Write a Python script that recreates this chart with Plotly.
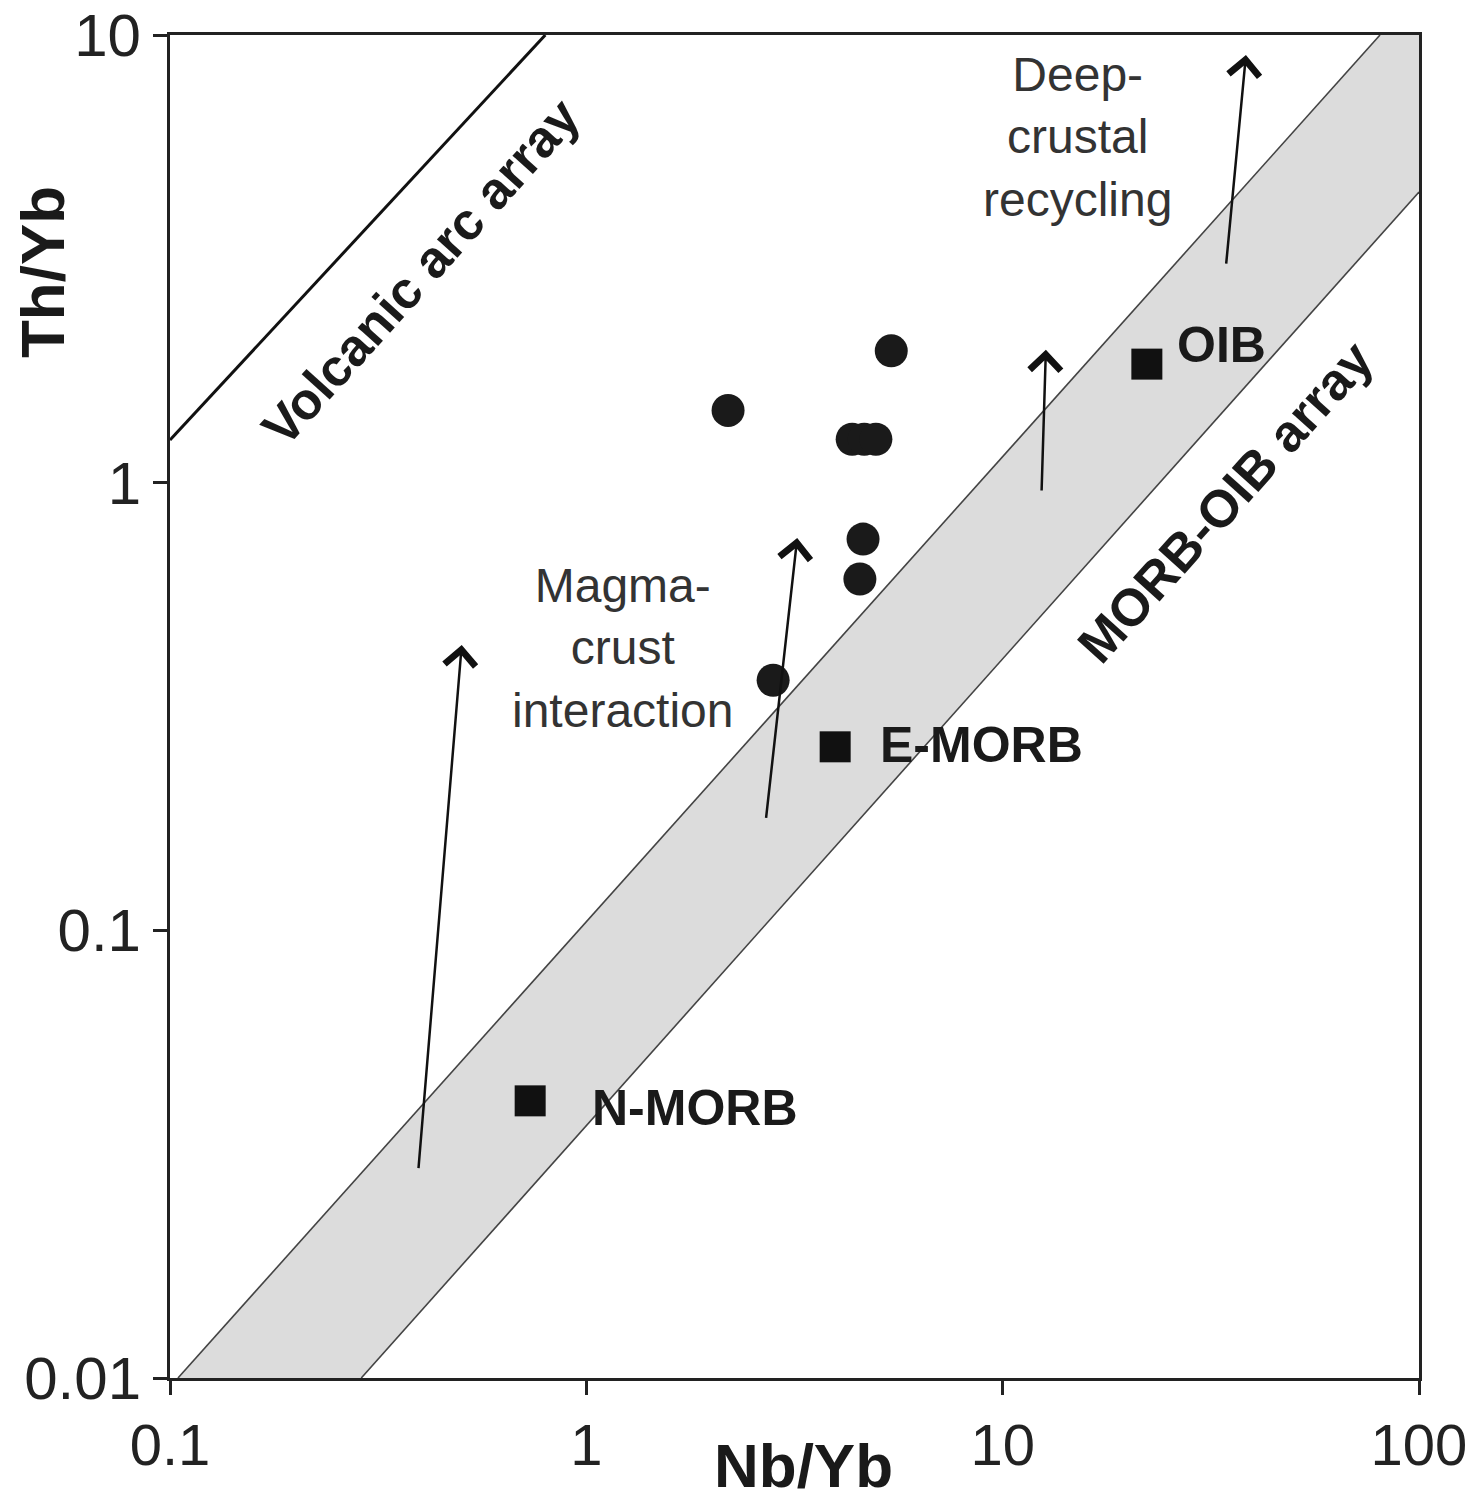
import numpy as np
import plotly.graph_objects as go

# ---- data ----
# sample points (filled circles)
sample_nbyb = [5.40, 2.19, 4.35, 4.65, 4.96, 4.62, 4.54, 2.81]
sample_thyb = [1.97, 1.45, 1.25, 1.25, 1.25, 0.748, 0.609, 0.362]

# reference compositions (squares)
ref_names = ["N-MORB", "E-MORB", "OIB"]
ref_nbyb = [0.733, 3.96, 22.2]
ref_thyb = [0.0416, 0.257, 1.84]
ref_label_x = [1.02, 5.02, 25.9]
ref_label_y = [0.0401, 0.2595, 2.03]

# volcanic arc array line
arc_x = [0.1, 0.797]
arc_y = [1.245, 10.0]

# MORB-OIB array boundaries
morb_upper_x = [0.1045, 80.6]
morb_upper_y = [0.01, 10.0]
morb_lower_x = [0.288, 100.0]
morb_lower_y = [0.01, 4.46]

# trend arrows (start -> end)
arrow_x0 = [0.395, 2.70, 12.4, 34.4]
arrow_y0 = [0.0292, 0.177, 0.953, 3.06]
arrow_x1 = [0.502, 3.21, 12.7, 38.4]
arrow_y1 = [0.434, 0.752, 1.98, 9.02]

# text labels
field_labels = ["Volcanic arc array", "MORB-OIB array"]
field_x = [0.400, 34.2]
field_y = [2.95, 0.906]
process_labels = ["Magma-<br>crust<br>interaction", "Deep-<br>crustal<br>recycling"]
process_x = [1.22, 15.1]
process_y = [0.428, 5.92]

x_ticks = [0.1, 1, 10, 100]
x_ticktext = ["0.1", "1", "10", "100"]
y_ticks = [0.01, 0.1, 1, 10]
y_ticktext = ["0.01", "0.1", "1", "10"]

FONT = "Liberation Sans, Arial, sans-serif"
lg = np.log10

fig = go.Figure()

# MORB-OIB band fill
band_x = [morb_upper_x[0], morb_upper_x[1], 100.0, morb_lower_x[1], morb_lower_x[0], morb_upper_x[0]]
band_y = [morb_upper_y[0], morb_upper_y[1], 10.0, morb_lower_y[1], morb_lower_y[0], morb_upper_y[0]]
fig.add_trace(go.Scatter(x=band_x, y=band_y, mode="lines", fill="toself",
                         fillcolor="#dcdcdc", line=dict(width=0), hoverinfo="skip",
                         showlegend=False))
fig.add_trace(go.Scatter(x=morb_upper_x, y=morb_upper_y, mode="lines",
                         line=dict(color="#444444", width=1.6), showlegend=False))
fig.add_trace(go.Scatter(x=morb_lower_x, y=morb_lower_y, mode="lines",
                         line=dict(color="#444444", width=1.6), showlegend=False))
fig.add_trace(go.Scatter(x=arc_x, y=arc_y, mode="lines",
                         line=dict(color="#111111", width=3), showlegend=False))

fig.add_trace(go.Scatter(x=sample_nbyb, y=sample_thyb, mode="markers",
                         marker=dict(symbol="circle", size=33, color="#1a1a1a",
                                     line=dict(width=0)), showlegend=False))
fig.add_trace(go.Scatter(x=ref_nbyb, y=ref_thyb, mode="markers",
                         marker=dict(symbol="square", size=31, color="#111111",
                                     line=dict(width=0)), showlegend=False))

annotations = []
for x0, y0, x1, y1 in zip(arrow_x0, arrow_y0, arrow_x1, arrow_y1):
    annotations.append(dict(x=lg(x1), y=lg(y1), ax=lg(x0), ay=lg(y0),
                            xref="x", yref="y", axref="x", ayref="y",
                            showarrow=True, arrowhead=4, arrowsize=2.4,
                            arrowwidth=2.5, arrowcolor="#111111", text=""))
for name, x, y in zip(ref_names, ref_label_x, ref_label_y):
    annotations.append(dict(x=lg(x), y=lg(y), xref="x", yref="y", text="<b>%s</b>" % name,
                            showarrow=False, xanchor="left", yanchor="middle",
                            font=dict(family=FONT, size=50, color="#1a1a1a")))
for name, x, y in zip(field_labels, field_x, field_y):
    annotations.append(dict(x=lg(x), y=lg(y), xref="x", yref="y", text="<b>%s</b>" % name,
                            showarrow=False, textangle=-48,
                            xanchor="center", yanchor="middle",
                            font=dict(family=FONT, size=52, color="#1a1a1a")))
for name, x, y in zip(process_labels, process_x, process_y):
    annotations.append(dict(x=lg(x), y=lg(y), xref="x", yref="y", text=name,
                            showarrow=False, align="center",
                            xanchor="center", yanchor="middle",
                            font=dict(family=FONT, size=48, color="#333333")))
# axis titles
annotations.append(dict(x=0.507, y=-0.0655, xref="paper", yref="paper", text="<b>Nb/Yb</b>",
                        showarrow=False, xanchor="center", yanchor="middle",
                        font=dict(family=FONT, size=62, color="#1a1a1a")))
annotations.append(dict(x=-0.1025, y=0.8235, xref="paper", yref="paper", text="<b>Th/Yb</b>",
                        showarrow=False, textangle=-90, xanchor="center", yanchor="middle",
                        font=dict(family=FONT, size=62, color="#1a1a1a")))

fig.update_layout(
    template="none",
    width=1469, height=1501,
    margin=dict(l=170, r=50, t=35, b=123, autoexpand=False),
    paper_bgcolor="white", plot_bgcolor="white",
    annotations=annotations,
    showlegend=False,
)
fig.update_xaxes(type="log", range=[-1, 2], tickvals=x_ticks, ticktext=x_ticktext,
                 ticks="outside", ticklen=14, tickwidth=2.5, tickcolor="#222",
                 showline=True, linecolor="#222", linewidth=3, mirror=True,
                 showgrid=False, zeroline=False, ticklabeloverflow="allow",
                 automargin=False,
                 tickfont=dict(family=FONT, size=58, color="#222"))
fig.update_yaxes(type="log", range=[-2, 1], tickvals=y_ticks, ticktext=y_ticktext,
                 ticks="outside", ticklen=14, tickwidth=2.5, tickcolor="#222",
                 showline=True, linecolor="#222", linewidth=3, mirror=True,
                 showgrid=False, zeroline=False, ticklabeloverflow="allow",
                 automargin=False,
                 tickfont=dict(family=FONT, size=60, color="#222"))

fig.write_html("out.html", config={"displayModeBar": False},
               post_script="document.body.style.margin='0';")
